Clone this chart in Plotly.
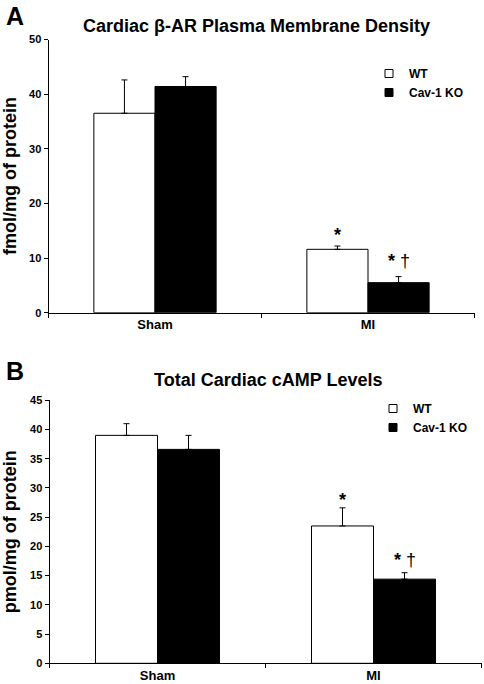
import plotly.graph_objects as go

# ---- data ----
groups = ["Sham", "MI"]
series_names = ["WT", "Cav-1 KO"]

# Panel A: Cardiac beta-AR plasma membrane density (fmol/mg of protein)
a_wt = [36.5, 11.6]
a_wt_err = [6.1, 0.6]
a_ko = [41.4, 5.5]
a_ko_err = [1.8, 1.1]

# Panel B: Total cardiac cAMP (pmol/mg of protein)
b_wt = [39.0, 23.5]
b_wt_err = [2.0, 3.1]
b_ko = [36.6, 14.4]
b_ko_err = [2.4, 1.1]

W, H = 484, 684
FONT = "Liberation Sans, Arial, sans-serif"
BARGAP = 0.426
FILLS = ["white", "black"]

def px_x(p):
    return p / W

def px_y(p):
    return 1 - p / H

fig = go.Figure()

def add_panel(vals, errs, xa, ya, legend_name):
    for name, fill, v, e in zip(series_names, FILLS, vals, errs):
        fig.add_trace(go.Bar(
            x=groups, y=v, name=name, xaxis=xa, yaxis=ya, showlegend=False,
            marker=dict(color=fill, line=dict(color="black", width=1)),
            error_y=dict(type="data", array=e, arrayminus=[0] * len(e),
                         symmetric=False, color="black", thickness=1, width=3),
        ))
    # legend entries (small square keys)
    for name, fill in zip(series_names, FILLS):
        fig.add_trace(go.Scatter(
            x=[None], y=[None], mode="markers", name=name, xaxis=xa, yaxis=ya,
            marker=dict(symbol="square", size=8, color=fill,
                        line=dict(color="black", width=1)),
            legend=legend_name, hoverinfo="skip",
        ))

add_panel([a_wt, a_ko], [a_wt_err, a_ko_err], "x", "y", "legend")
add_panel([b_wt, b_ko], [b_wt_err, b_ko_err], "x2", "y2", "legend2")

xcommon = dict(type="category", showline=True, linecolor="black", linewidth=1,
               ticks="outside", tickson="boundaries", ticklen=4, tickcolor="black",
               tickfont=dict(family=FONT, size=13, color="black", weight="bold"),
               showgrid=False, zeroline=False, fixedrange=True, automargin=False)
ycommon = dict(showline=True, linecolor="black", linewidth=1, ticks="outside",
               ticklen=4, tickcolor="black", showgrid=False, zeroline=False,
               automargin=False,
               tickfont=dict(family=FONT, size=11, color="black", weight="bold"))

legend_common = dict(xanchor="left", yanchor="top", bgcolor="rgba(0,0,0,0)",
                     traceorder="normal", itemwidth=30,
                     font=dict(family=FONT, size=12, color="black", weight="bold"))

fig.update_layout(
    width=W, height=H,
    margin=dict(l=0, r=0, t=0, b=0, autoexpand=False),
    paper_bgcolor="white", plot_bgcolor="white",
    barmode="group", bargap=BARGAP, bargroupgap=0,
    font=dict(family=FONT, color="black"),
    xaxis=dict(domain=[px_x(48.5), px_x(474.5)], anchor="y", **xcommon),
    yaxis=dict(domain=[px_y(312.7), px_y(39.5)], anchor="x", range=[0, 50], dtick=10,
               title=dict(text="fmol/mg of protein", standoff=11,
                          font=dict(family=FONT, size=18, color="black", weight="bold")),
               **ycommon),
    xaxis2=dict(domain=[px_x(49.5), px_x(481.5)], anchor="y2", **xcommon),
    yaxis2=dict(domain=[px_y(663.3), px_y(400.3)], anchor="x2", range=[0, 45], dtick=5,
                title=dict(text="pmol/mg of protein", standoff=11,
                           font=dict(family=FONT, size=18, color="black", weight="bold")),
                **ycommon),
    legend=dict(x=px_x(369), y=px_y(59), **legend_common),
    legend2=dict(x=px_x(373), y=px_y(394), **legend_common),
    showlegend=True,
)

half = (1 - BARGAP) / 4  # offset of each bar centre from the category centre

annots = [
    dict(text="A", x=px_x(4), y=px_y(0), xanchor="left", yanchor="top",
         font=dict(size=25, weight="bold")),
    dict(text="B", x=px_x(4), y=px_y(370.5), xanchor="left", yanchor="middle",
         font=dict(size=25, weight="bold")),
    dict(text="Cardiac β-AR Plasma Membrane Density", x=px_x(256.5), y=px_y(26),
         xanchor="center", yanchor="middle", font=dict(size=18, weight="bold")),
    dict(text="Total Cardiac cAMP Levels", x=px_x(267.5), y=px_y(380),
         xanchor="center", yanchor="middle", font=dict(size=18, weight="bold")),
]
for a in annots:
    a.update(xref="paper", yref="paper", showarrow=False)
    a["font"].update(family=FONT, color="black")
    fig.add_annotation(**a)

# significance markers over the MI bars
def sig(xref, yref, x, ytop, text, shift):
    fig.add_annotation(x=x, y=ytop, xref=xref, yref=yref, text=text, showarrow=False,
                       xanchor="center", yanchor="bottom", yshift=shift,
                       font=dict(family=FONT, size=18, color="black"))

sig("x", "y", 1 - half, a_wt[1] + a_wt_err[1], "<b>*</b>", -1)
sig("x", "y", 1 + half, a_ko[1] + a_ko_err[1], "<b>*</b> †", 4)
sig("x2", "y2", 1 - half, b_wt[1] + b_wt_err[1], "<b>*</b>", -4)
sig("x2", "y2", 1 + half, b_ko[1] + b_ko_err[1], "<b>*</b> †", 1)

# remove the browser's default 8px page margin so the figure sits at (0, 0)
fig.write_html("out.html", config={"displayModeBar": False},
               post_script="document.body.style.margin='0';document.body.style.padding='0';")
